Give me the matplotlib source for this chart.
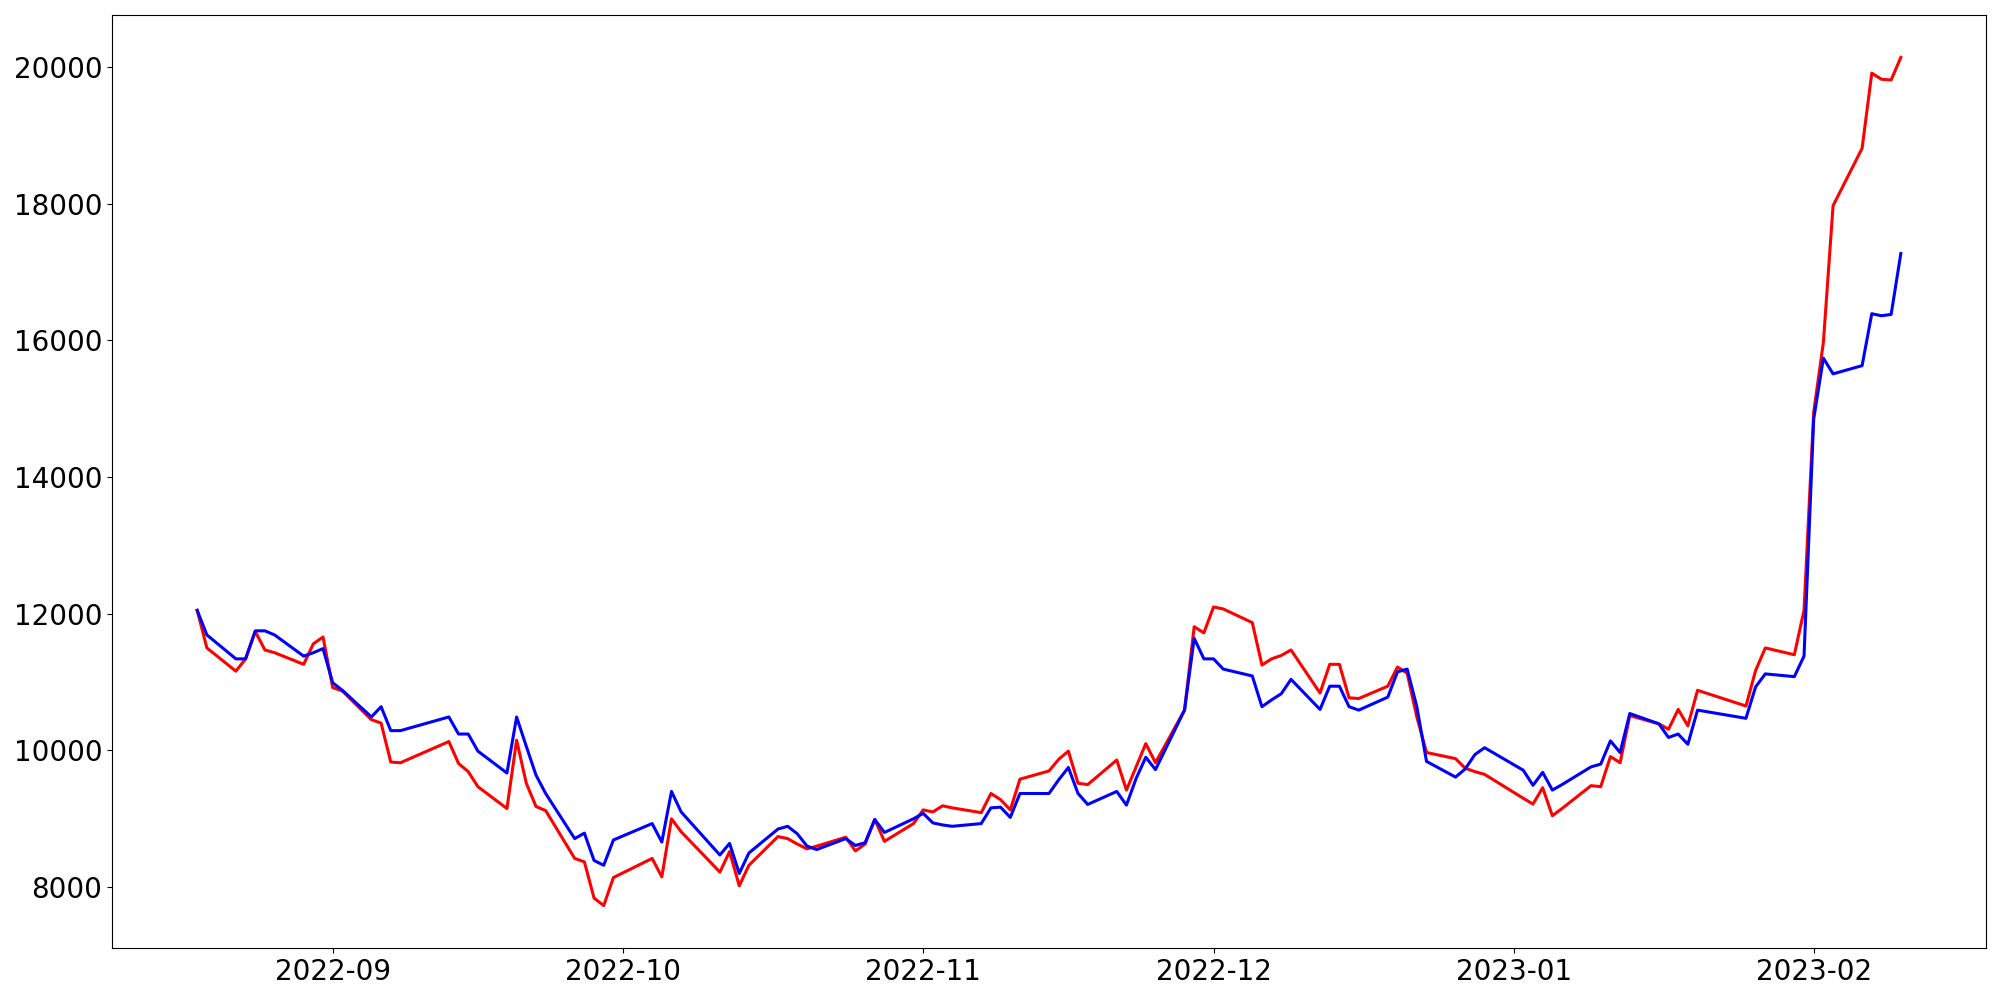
"""
두 종목 종가 추이 (2022-08 ~ 2023-02)
"""

import matplotlib

matplotlib.use("Agg")
import matplotlib.pyplot as plt
import pandas as pd

# 거래일: 평일 중 휴장일 제외
start_day = "2022-08-18"
end_day = "2023-02-10"
krx_holidays = [
    "2022-09-09", "2022-09-12", "2022-10-03", "2022-10-10",
    "2022-12-30", "2023-01-23", "2023-01-24",
]

# 빨간선
red_close = [
    12050, 11500, 11160, 11340, 11740, 11470, 11430, 11260, 11560, 11660,
    10920, 10870, 10450, 10400, 9830, 9820, 10130, 9810, 9690, 9470,
    9150, 10150, 9520, 9180, 9120, 8420, 8370, 7840, 7730, 8140,
    8420, 8150, 9000, 8810, 8220, 8520, 8020, 8320, 8740, 8710,
    8630, 8560, 8600, 8730, 8530, 8630, 8990, 8670, 8930,
    9130, 9100, 9190, 9160, 9090, 9370, 9280, 9130, 9580, 9700,
    9870, 9990, 9520, 9500, 9860, 9420, 9760, 10100, 9820, 10590,
    11810, 11720,
    12100, 12070, 11870, 11250, 11340, 11390, 11470, 10840, 11260, 11260,
    10770, 10760, 10940, 11220, 11130, 10490, 9970, 9880, 9740, 9690,
    9650,
    9300, 9215, 9455, 9045, 9150, 9485, 9470, 9910, 9820, 10510,
    10390, 10310, 10600, 10360, 10880, 10650, 11170, 11500, 11400, 12050,
    14950, 15970, 17970, 18810, 19910, 19820, 19810, 20140,
]

# 파란선
blue_close = [
    12050, 11690, 11340, 11340, 11750, 11750, 11690, 11380, 11430, 11490,
    10990, 10880, 10490, 10640, 10290, 10290, 10490, 10240, 10240, 9990,
    9670, 10490, 10060, 9640, 9370, 8710, 8790, 8390, 8320, 8690,
    8930, 8660, 9400, 9100, 8470, 8640, 8200, 8500, 8850, 8890,
    8780, 8600, 8550, 8710, 8610, 8650, 8990, 8800, 9000,
    9080, 8940, 8910, 8890, 8930, 9160, 9170, 9020, 9370, 9370,
    9570, 9750, 9370, 9210, 9400, 9200, 9590, 9900, 9720, 10590,
    11640, 11340,
    11340, 11190, 11090, 10640, 10740, 10830, 11040, 10600, 10940, 10940,
    10640, 10590, 10780, 11150, 11190, 10640, 9840, 9610, 9730, 9940,
    10040,
    9710, 9490, 9680, 9420, 9500, 9760, 9800, 10140, 9970, 10540,
    10390, 10190, 10240, 10090, 10590, 10470, 10930, 11120, 11080, 11380,
    14850, 15740, 15510, 15630, 16390, 16360, 16380, 17270,
]

dates = pd.bdate_range(start_day, end_day, freq="C", holidays=krx_holidays)

fig, ax = plt.subplots(figsize=(20, 10), dpi=100)
ax.plot(dates, red_close, color="red", linewidth=2.2)
ax.plot(dates, blue_close, color="blue", linewidth=2.2)

ax.tick_params(axis="both", labelsize=20)

plt.subplots_adjust(left=0.056, right=0.993, top=0.985, bottom=0.052)
plt.savefig("out.png", dpi=100)
plt.close()
